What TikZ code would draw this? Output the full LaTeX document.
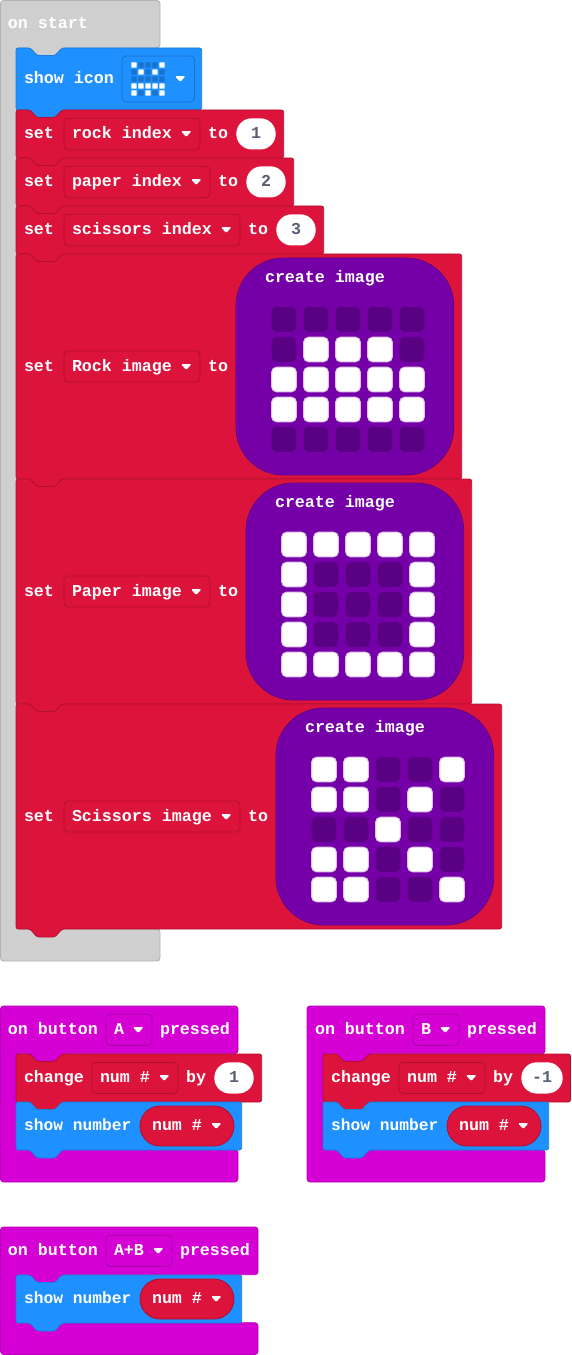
\documentclass[tikz,border=0pt]{standalone}
\usepackage{fontspec}
\setmainfont{Liberation Mono}
\definecolor{cffffff}{RGB}{255,255,255}
\definecolor{ccfcfcf}{RGB}{207,207,207}
\definecolor{cb3b3b3}{RGB}{179,179,179}
\definecolor{c1e90ff}{RGB}{30,144,255}
\definecolor{c1873cc}{RGB}{24,115,204}
\definecolor{cdc143c}{RGB}{220,20,60}
\definecolor{cb01030}{RGB}{176,16,48}
\definecolor{cd400d4}{RGB}{212,0,212}
\definecolor{caa00aa}{RGB}{170,0,170}
\definecolor{c7600a8}{RGB}{118,0,168}
\definecolor{c5e0086}{RGB}{94,0,134}
\definecolor{c5a0082}{RGB}{90,0,130}
\definecolor{c575e75}{RGB}{87,94,117}
\tikzset{
  blocktext/.style={font=\bfseries\fontsize{13.33pt}{16pt}\selectfont,text=cffffff,inner sep=0pt,outer sep=0pt,anchor=base west},
  tighttext/.style={blocktext,font=\bfseries\fontsize{13pt}{16pt}\selectfont},
  numtext/.style={blocktext,text=c575e75,anchor=base},
  hatgray/.style={draw=cb3b3b3,fill=ccfcfcf,line width=0.7pt,rounded corners=2.4pt},
  hatpink/.style={draw=caa00aa!70!cd400d4,fill=cd400d4,line width=0.6pt,rounded corners=2.4pt},
  blueblock/.style={draw=c1873cc!70!c1e90ff,fill=c1e90ff,line width=0.6pt,rounded corners=1.8pt},
  redblock/.style={draw=cb01030,fill=cdc143c,line width=0.6pt,rounded corners=1.8pt},
  dropred/.style={draw=cb01030,fill=cdc143c,line width=0.7pt,rounded corners=3.2pt},
  dropblue/.style={draw=c1873cc,fill=c1e90ff,line width=0.7pt,rounded corners=3.2pt},
  droppink/.style={draw=caa00aa,fill=cd400d4,line width=0.7pt,rounded corners=3.2pt},
  pillwhite/.style={fill=cffffff,rounded corners=12.4pt},
  pillred/.style={draw=cb01030,fill=cdc143c,line width=0.7pt,rounded corners=16pt},
  imagebox/.style={draw=c5e0086,fill=c7600a8,line width=0.6pt,rounded corners=38pt},
  ledon/.style={draw=c7600a8!25,fill=cffffff,line width=0.7pt,rounded corners=4pt},
  ledoff/.style={fill=c5a0082,rounded corners=4pt},
  iconon/.style={fill=cffffff,rounded corners=0.5pt},
  iconoff/.style={fill=c1873cc,rounded corners=0.5pt},
}
% #1 style, #2 x, #3 y, #4 width, #5 arm bottom, #6 arm top, #7 bottom
\newcommand{\hatblock}[7]{
  \path[#1] (#2,#3) -- ({#2+#4},#3) -- ({#2+#4},#5) -- ({#2+62},#5) -- ({#2+55},{#5+8})
    -- ({#2+37},{#5+8}) -- ({#2+30},#5) -- ({#2+16},#5) -- ({#2+16},#6) -- ({#2+#4},#6)
    -- ({#2+#4},#7) -- (#2,#7) -- cycle;
}
% #1 style, #2 x, #3 y, #4 width, #5 height
\newcommand{\stackblock}[5]{
  \path[#1] (#2,#3) -- ({#2+14},#3) -- ({#2+21},{#3+7.5}) -- ({#2+39},{#3+7.5}) -- ({#2+46},#3)
    -- ({#2+#4-0.3},#3) -- ({#2+#4-0.3},{#3+#5}) -- ({#2+46},{#3+#5}) -- ({#2+39},{#3+#5+8})
    -- ({#2+21},{#3+#5+8}) -- ({#2+14},{#3+#5}) -- (#2,{#3+#5}) -- cycle;
}
\newcommand{\droparrow}[2]{
  \path[fill=cffffff,rounded corners=0.9pt] (#1,{#2+0.2}) -- ({#1+10.4},{#2+0.2}) -- ({#1+5.2},{#2+6}) -- cycle;
}
% #1 x, #2 y, #3 step x, #4 step y, #5 half size, #6 on, #7 off, #8 bits
\newcommand{\ledgrid}[8]{
  \foreach \rowbits [count=\rownum from 0] in {#8} {
    \foreach \bit [count=\colnum from 0] in \rowbits {
      \ifnum\bit=1
        \path[#6] ({#1+\colnum*#3-#5},{#2+\rownum*#4-#5}) rectangle ({#1+\colnum*#3+#5},{#2+\rownum*#4+#5});
      \else
        \path[#7] ({#1+\colnum*#3-#5},{#2+\rownum*#4-#5}) rectangle ({#1+\colnum*#3+#5},{#2+\rownum*#4+#5});
      \fi
    }
  }
}
\begin{document}
\begin{tikzpicture}[y=0.80pt, x=0.8pt,yscale=-1, inner sep=0pt, outer sep=0pt]
  \useasboundingbox (0,0) rectangle (571,1355);

  % on start
  \hatblock{hatgray}{0.5}{0.5}{159.5}{47.7}{929}{961}
  \node[blocktext] (textonstart) at (8,28.7) {on start};
  \stackblock{blueblock}{16}{48}{186}{62}
  \node[blocktext] (textshowicon) at (24,83.7) {show icon};
  \path[dropblue] (122,56) rectangle (194.5,102);
  \ledgrid{134}{65}{7}{7}{2.7}{iconon}{iconoff}{{1,0,0,0,1},{0,1,0,1,0},{0,0,0,0,0},{1,1,1,1,1},{1,0,1,0,1}}
  \droparrow{175}{76}

  \stackblock{redblock}{16}{110}{268}{48}
  \node[blocktext] (textsetrock) at (24,138.7) {set};
  \path[dropred] (64,118.3) rectangle (200,149.7);
  \node[blocktext] (textrockindex) at (72,138.7) {rock index};
  \droparrow{181}{131}
  \node[blocktext] (texttorock) at (208,138.7) {to};
  \path[pillwhite] (236.3,118.3) rectangle (275.7,149.5);
  \node[numtext] (textone) at (256,138.7) {1};

  \stackblock{redblock}{16}{158}{278}{48}
  \node[blocktext] (textsetpaper) at (24,186.7) {set};
  \path[dropred] (64,166.3) rectangle (210,197.7);
  \node[blocktext] (textpaperindex) at (72,186.7) {paper index};
  \droparrow{191}{179}
  \node[blocktext] (texttopaper) at (218,186.7) {to};
  \path[pillwhite] (246.3,166.3) rectangle (285.7,197.5);
  \node[numtext] (texttwo) at (266,186.7) {2};

  \stackblock{redblock}{16}{206}{308}{48}
  \node[blocktext] (textsetscissors) at (24,234.7) {set};
  \path[dropred] (64,214.3) rectangle (240,245.7);
  \node[blocktext] (textscissorsindex) at (72,234.7) {scissors index};
  \droparrow{221}{227}
  \node[blocktext] (texttoscissors) at (248,234.7) {to};
  \path[pillwhite] (276.3,214.3) rectangle (315.7,245.5);
  \node[numtext] (textthree) at (296,234.7) {3};

  \stackblock{redblock}{16}{254}{446}{225}
  \node[blocktext] (textsetrockimg) at (24,371) {set};
  \path[dropred] (64,351) rectangle (200,382);
  \node[blocktext] (textrockimg) at (72,371) {Rock image};
  \droparrow{181}{364}
  \node[blocktext] (texttorockimg) at (208,371) {to};
  \path[imagebox] (236,258) rectangle (453.7,475);
  \node[blocktext] (textcreaterock) at (265,282.7) {create image};
  \ledgrid{284}{319.5}{32}{30}{12.4}{ledon}{ledoff}{{0,0,0,0,0},{0,1,1,1,0},{1,1,1,1,1},{1,1,1,1,1},{0,0,0,0,0}}

  \stackblock{redblock}{16}{479}{456}{225}
  \node[blocktext] (textsetpaperimg) at (24,596) {set};
  \path[dropred] (64,576) rectangle (210,607);
  \node[blocktext] (textpaperimg) at (72,596) {Paper image};
  \droparrow{191}{589}
  \node[blocktext] (texttopaperimg) at (218,596) {to};
  \path[imagebox] (246,483) rectangle (463.7,700);
  \node[blocktext] (textcreatepaper) at (275,507) {create image};
  \ledgrid{294}{544.5}{32}{30}{12.4}{ledon}{ledoff}{{1,1,1,1,1},{1,0,0,0,1},{1,0,0,0,1},{1,0,0,0,1},{1,1,1,1,1}}

  \stackblock{redblock}{16}{704}{486}{225}
  \node[blocktext] (textsetscissorsimg) at (24,821) {set};
  \path[dropred] (64,801) rectangle (240,832);
  \node[blocktext] (textscissorsimg) at (72,821) {Scissors image};
  \droparrow{221}{814}
  \node[blocktext] (texttoscissorsimg) at (248,821) {to};
  \path[imagebox] (276,708) rectangle (493.7,925);
  \node[blocktext] (textcreatescissors) at (305,732) {create image};
  \ledgrid{324}{769.5}{32}{30}{12.4}{ledon}{ledoff}{{1,1,0,0,1},{1,1,0,1,0},{0,0,1,0,0},{1,1,0,1,0},{1,1,0,0,1}}

  % on button A
  \hatblock{hatpink}{0.5}{1006}{237.5}{1053.7}{1149.7}{1182}
  \node[blocktext] (textbuttona) at (8,1034) {on button};
  \path[droppink] (106,1014.3) rectangle (152,1045.3);
  \node[blocktext] (texta) at (114,1034) {A};
  \droparrow{133}{1027}
  \node[blocktext] (textpresseda) at (160,1034) {pressed};
  \stackblock{redblock}{16}{1054}{246}{48}
  \node[blocktext] (textchangea) at (24,1082) {change};
  \path[dropred] (92,1062.3) rectangle (178,1093.3);
  \node[blocktext] (textnuma) at (100,1082) {num \#};
  \droparrow{159}{1075}
  \node[blocktext] (textbya) at (186,1082) {by};
  \path[pillwhite] (214.3,1062.3) rectangle (253.7,1093.5);
  \node[numtext] (textplus) at (234,1082) {1};
  \stackblock{blueblock}{16}{1102}{226}{48}
  \node[tighttext] (textshowa) at (24,1130) {show number};
  \path[pillred] (140,1106) rectangle (234,1146);
  \node[blocktext] (textnumsa) at (152,1130) {num \#};
  \droparrow{211}{1123}

  % on button B
  \hatblock{hatpink}{307}{1006}{238}{1053.7}{1149.7}{1182}
  \node[blocktext] (textbuttonb) at (315,1034) {on button};
  \path[droppink] (413,1014.3) rectangle (459,1045.3);
  \node[blocktext] (textb) at (421,1034) {B};
  \droparrow{440}{1027}
  \node[blocktext] (textpressedb) at (467,1034) {pressed};
  \stackblock{redblock}{323}{1054}{247.8}{48}
  \node[blocktext] (textchangeb) at (331,1082) {change};
  \path[dropred] (399,1062.3) rectangle (485,1093.3);
  \node[blocktext] (textnumb) at (407,1082) {num \#};
  \droparrow{466}{1075}
  \node[blocktext] (textbyb) at (493,1082) {by};
  \path[pillwhite] (521.3,1062.3) rectangle (562.7,1093.5);
  \node[numtext] (textminus) at (542,1082) {-1};
  \stackblock{blueblock}{323}{1102}{226}{48}
  \node[tighttext] (textshowb) at (331,1130) {show number};
  \path[pillred] (447,1106) rectangle (541,1146);
  \node[blocktext] (textnumsb) at (459,1130) {num \#};
  \droparrow{518}{1123}

  % on button A+B
  \hatblock{hatpink}{0.5}{1227}{257.5}{1274.7}{1322.7}{1354.5}
  \node[blocktext] (textbuttonab) at (8,1255) {on button};
  \path[droppink] (106,1235.3) rectangle (172,1266.3);
  \node[blocktext] (textab) at (114,1255) {A+B};
  \droparrow{153}{1248}
  \node[blocktext] (textpressedab) at (180,1255) {pressed};
  \stackblock{blueblock}{16}{1275}{226}{48}
  \node[tighttext] (textshowab) at (24,1303) {show number};
  \path[pillred] (140,1279) rectangle (234,1319);
  \node[blocktext] (textnumsab) at (152,1303) {num \#};
  \droparrow{211}{1296}
\end{tikzpicture}
\end{document}
